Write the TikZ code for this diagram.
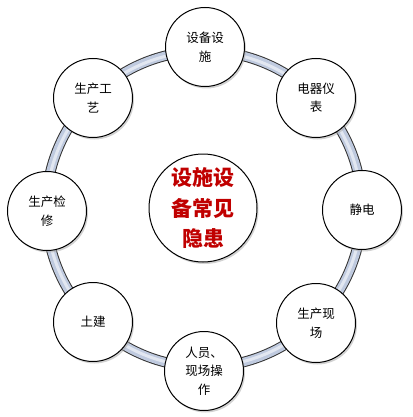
\documentclass[tikz,border=0pt]{standalone}
\usepackage{fontspec}
\newfontfamily\cjk{Noto Sans CJK SC}
\usetikzlibrary{shadows}
\definecolor{ringfill}{HTML}{BFCADF}
\definecolor{centerred}{HTML}{C00000}
\tikzset{
  sat/.style={circle, draw=black, line width=1pt, fill=white, minimum size=79pt, inner sep=0pt,
    align=center, font=\cjk\fontsize{12.5}{18.5}\selectfont,
    drop shadow={shadow xshift=1.5pt, shadow yshift=-2pt, fill=black!35, opacity=0.5}},
  hub/.style={circle, draw=black, line width=1pt, fill=white, minimum size=108pt, inner sep=0pt,
    align=center, font=\cjk\bfseries\fontsize{21}{30.5}\selectfont, text=centerred,
    drop shadow={shadow xshift=1.5pt, shadow yshift=-2pt, fill=black!35, opacity=0.5}},
}
\begin{document}
\begin{tikzpicture}[x=1pt,y=-1pt]
\useasboundingbox (0,0) rectangle (412,417);
\coordinate (c) at (204,209);
% ring
\draw[line width=10.5pt, black!80] (c) circle (158);
\draw[line width=8.5pt, ringfill] (c) circle (158);
\draw[line width=3pt, white!55!ringfill] (c) circle (157.5);
% hub
\node[hub] (hub) at (203,208) {设施设\\备常见\\隐患};
% satellites
\node[sat] (s1) at (205,47) {设备设\\施};
\node[sat] (s2) at (316,98) {电器仪\\表};
\node[sat] (s3) at (362,210) {静电};
\node[sat] (s4) at (316,323) {生产现\\场};
\node[sat] (s5) at (204,371) {人员、\\现场操\\作};
\node[sat] (s6) at (93,322) {土建};
\node[sat] (s7) at (47,211) {生产检\\修};
\node[sat] (s8) at (93,98) {生产工\\艺};
\end{tikzpicture}
\end{document}
